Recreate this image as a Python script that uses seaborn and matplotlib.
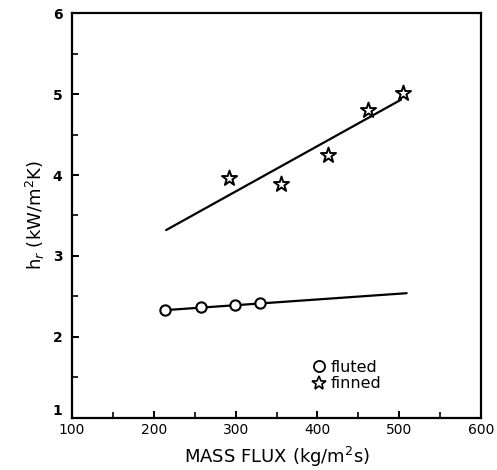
import numpy as np
import pandas as pd
import matplotlib
matplotlib.use("Agg")
import matplotlib.pyplot as plt
import matplotlib.transforms as mtransforms
from matplotlib.lines import Line2D
import seaborn as sns

# data
fluted_flux = [213, 258, 299, 330]
fluted_h = [2.33, 2.37, 2.39, 2.42]
fluted_fit_flux = [213, 509]
fluted_fit_h = [2.33, 2.54]

finned_flux = [292, 355, 413, 462, 505]
finned_h = [3.96, 3.89, 4.25, 4.80, 5.01]
finned_fit_flux = [215, 502]
finned_fit_h = [3.32, 4.93]

x_ticks = [100, 200, 300, 400, 500, 600]
y_ticks = [1, 2, 3, 4, 5, 6]

sns.set_style("ticks")
plt.rcParams['font.family'] = ['DejaVu Sans']
plt.rcParams['text.color'] = 'black'
plt.rcParams['axes.labelcolor'] = 'black'
plt.rcParams['xtick.color'] = 'black'
plt.rcParams['ytick.color'] = 'black'
plt.rcParams['axes.edgecolor'] = 'black'

fig = plt.figure(figsize=(4.97, 4.70), dpi=100)
ax = fig.add_axes([0.145, 0.111, 0.823, 0.861])

# fitted lines
sns.lineplot(x=fluted_fit_flux, y=fluted_fit_h, ax=ax, color='black', linewidth=1.6)
sns.lineplot(x=finned_fit_flux, y=finned_fit_h, ax=ax, color='black', linewidth=1.6)

# measured points
sns.scatterplot(x=fluted_flux, y=fluted_h, ax=ax, marker='o', s=55,
                facecolor='white', edgecolor='black', linewidth=1.5, zorder=3)
sns.scatterplot(x=finned_flux, y=finned_h, ax=ax, marker='*', s=130,
                facecolor='white', edgecolor='black', linewidth=1.4, zorder=3)

ax.set_xlim(100, 600)
ax.set_ylim(1, 6)
ax.set_xticks(x_ticks)
ax.set_yticks(y_ticks)
ax.set_xticks(np.arange(150, 600, 100), minor=True)
ax.set_yticks(np.arange(1.5, 6, 1.0), minor=True)
ax.tick_params(which='both', direction='in', labelsize=10)
ax.tick_params(which='major', length=5, width=1.4)
ax.tick_params(which='minor', length=4, width=1.2)
ax.tick_params(axis='y', pad=7)
for lab in ax.get_yticklabels():
    lab.set_fontweight('bold')
# the "1" sits raised at the corner, clear of "100"
ylabs = ax.get_yticklabels()
ylabs[0].set_transform(ylabs[0].get_transform() +
                       mtransforms.ScaledTranslation(0, 6 / 72, fig.dpi_scale_trans))
for sp in ax.spines.values():
    sp.set_linewidth(1.6)
    sp.set_visible(True)

ax.set_xlabel('MASS FLUX (kg/m$^2$s)', fontsize=13, labelpad=6)
ax.set_ylabel('h$_r$ (kW/m$^2$K)', fontsize=13, labelpad=4)

handles = [
    Line2D([], [], marker='o', linestyle='none', markerfacecolor='white',
           markeredgecolor='black', markersize=8, markeredgewidth=1.3, label='fluted'),
    Line2D([], [], marker='*', linestyle='none', markerfacecolor='white',
           markeredgecolor='black', markersize=10, markeredgewidth=1.2, label='finned'),
]
ax.legend(handles=handles, frameon=False, fontsize=11.5, loc='lower left',
          bbox_to_anchor=(0.55, 0.03), handletextpad=0.2, handlelength=1.0,
          labelspacing=0.1)

fig.savefig('out.png', dpi=100)
